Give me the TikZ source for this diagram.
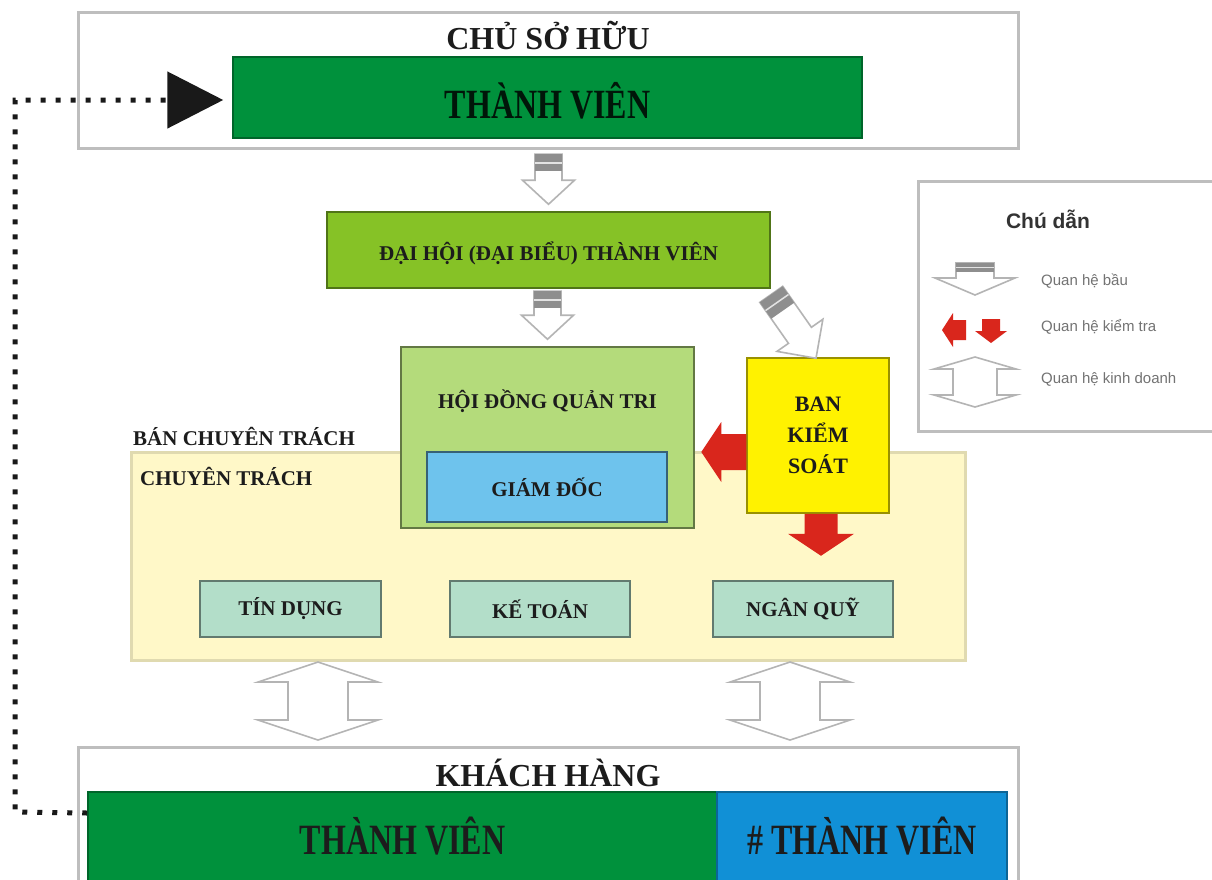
\documentclass[tikz,border=0pt]{standalone}
\usepackage{fontspec}
\setmainfont{Liberation Serif}
\newfontfamily\legfont{Liberation Sans}
\usetikzlibrary{arrows.meta,calc}
\definecolor{greenD}{HTML}{00913C}
\definecolor{daihoiC}{HTML}{86C226}
\definecolor{hdqtC}{HTML}{B4DB7B}
\definecolor{gdC}{HTML}{6EC3ED}
\definecolor{bksC}{HTML}{FFF200}
\definecolor{ctC}{HTML}{FFF8C8}
\definecolor{smallC}{HTML}{B3DEC9}
\definecolor{blueC}{HTML}{1190D6}
\definecolor{redC}{HTML}{D9261C}
\definecolor{outG}{HTML}{BEBEBE}
\definecolor{arrG}{HTML}{B4B4B4}
\definecolor{hatchG}{HTML}{8E8E8E}
\definecolor{txtD}{HTML}{1C1C1C}
\tikzset{
  outerbox/.style={draw=outG, line width=3pt, fill=white, inner sep=0pt},
  colbox/.style={line width=1.5pt, inner sep=0pt, text=txtD},
  bigtxt/.style={font=\bfseries\fontsize{32}{36}\selectfont, text=txtD, inner sep=0pt},
  midtxt/.style={font=\bfseries\fontsize{21}{25}\selectfont, text=txtD, inner sep=0pt},
  legtxt/.style={font=\legfont\fontsize{15}{18}\selectfont, text=black!55, inner sep=0pt, anchor=west},
  dotline/.style={line width=5pt, dash pattern=on 5pt off 10pt, black!90},
  arrline/.style={draw=arrG, line width=1.6pt, fill=white, line join=miter},
  pics/elect/.style n args={5}{code={
    \draw[arrline] (0,0) -- (-#3,-#4) -- (-#2,-#4) -- (-#2,-#1) -- (#2,-#1) -- (#2,-#4) -- (#3,-#4) -- cycle;
    \fill[hatchG] (-#2,-#1) rectangle (#2,{-#1+#5});
    \draw[white!75!hatchG, line width=1.5pt] (-#2,{-#1+#5/2}) -- (#2,{-#1+#5/2});
  }},
  pics/business/.style n args={4}{code={
    \draw[arrline] (0,-#1) -- (#3,{-#1+#4}) -- (#2,{-#1+#4}) -- (#2,{#1-#4}) -- (#3,{#1-#4}) -- (0,#1)
      -- (-#3,{#1-#4}) -- (-#2,{#1-#4}) -- (-#2,{-#1+#4}) -- (-#3,{-#1+#4}) -- cycle;
  }},
  pics/redarrow/.style n args={4}{code={
    \fill[redC] (0,0) -- (-#3,-#4) -- (-#2,-#4) -- (-#2,-#1) -- (#2,-#1) -- (#2,-#4) -- (#3,-#4) -- cycle;
  }}
}
\begin{document}
\begin{tikzpicture}[x=1pt,y=-1pt]
\useasboundingbox (0,0) rectangle (1212,879);
\fill[white] (0,0) rectangle (1212,879);

% top owner box
\node[outerbox, minimum width=940pt, minimum height=136pt] (chu) at (548,80) {};
\node[bigtxt] (chutitle) at (548,36) {CHỦ SỞ HỮU};
\node[colbox, fill=greenD, draw=greenD!70!black, minimum width=629pt, minimum height=81pt] (tv1) at (547.5,97.5) {};
\node[bigtxt, text=black!85!greenD] (tv1t) at (547.5,101) {\scalebox{1}[1.3]{THÀNH VIÊN}};

% dai hoi
\node[colbox, fill=daihoiC, draw=daihoiC!60!black, minimum width=443pt, minimum height=76pt] (daihoi) at (548.5,250) {};
\node[midtxt] (daihoit) at (548.5,253) {ĐẠI HỘI (ĐẠI BIỂU) THÀNH VIÊN};

% chuyen trach area
\node[draw=ctC!70!black!40!ctC, line width=3pt, fill=ctC, minimum width=834pt, minimum height=208pt, inner sep=0pt] (ct) at (548,556) {};
\node[midtxt, anchor=west] (bct) at (133,436) {BÁN CHUYÊN TRÁCH};
\node[midtxt, anchor=west] (ctt) at (140,476) {CHUYÊN TRÁCH};

% HDQT
\node[colbox, fill=hdqtC, draw=hdqtC!55!black, minimum width=293pt, minimum height=181pt] (hdqt) at (547.5,437.5) {};
\node[midtxt] (hdqtt) at (547.5,401) {HỘI ĐỒNG QUẢN TRI};
\node[colbox, fill=gdC, draw=gdC!50!black, minimum width=240pt, minimum height=70pt, midtxt] (gd) at (547,487) {GIÁM ĐỐC};

% Ban kiem soat
\node[colbox, fill=bksC, draw=bksC!60!black, minimum width=142pt, minimum height=155pt, midtxt, align=center,
      font=\bfseries\fontsize{22}{31}\selectfont] (bks) at (818,435.5) {BAN\\KIỂM\\SOÁT};

% small boxes
\node[colbox, fill=smallC, draw=smallC!55!black, minimum width=181pt, minimum height=56pt, midtxt] (tindung) at (290.5,609) {TÍN DỤNG};
\node[colbox, fill=smallC, draw=smallC!55!black, minimum width=180pt, minimum height=56pt, midtxt] (ketoan) at (540,609) {KẾ TOÁN};
\node[colbox, fill=smallC, draw=smallC!55!black, minimum width=180pt, minimum height=56pt, midtxt] (nganquy) at (803,609) {NGÂN QUỸ};

% customers
\node[outerbox, minimum width=940pt, minimum height=160pt] (khach) at (548,827) {};
\node[bigtxt] (khacht) at (548,773) {KHÁCH HÀNG};
\node[colbox, fill=greenD, draw=greenD!70!black, minimum width=629pt, minimum height=90pt] (tv2) at (402.5,837) {};
\node[bigtxt] (tv2t) at (402.5,836) {\scalebox{1}[1.35]{THÀNH VIÊN}};
\node[colbox, fill=blueC, draw=blueC!70!black, minimum width=290pt, minimum height=90pt] (ntv) at (862,837) {};
\node[bigtxt] (ntvt) at (862,836) {\scalebox{1}[1.35]{\# THÀNH VIÊN}};

% legend
\node[outerbox, minimum width=322pt, minimum height=250pt] (legend) at (1079,306) {};
\node[font=\legfont\bfseries\fontsize{21}{24}\selectfont, text=black!80, inner sep=0pt] (legtitle) at (1048,219) {Chú dẫn};
\node[legtxt] (leg1) at (1041,281) {Quan hệ bầu};
\node[legtxt] (leg2) at (1041,327) {Quan hệ kiểm tra};
\node[legtxt] (leg3) at (1041,379) {Quan hệ kinh doanh};

% election arrows
\pic at ([yshift=7pt]daihoi.north) {elect={50}{13.5}{26}{24}{17}};
\pic at ([yshift=7pt]hdqt.north) {elect={48}{13.5}{26}{24}{17}};
\pic[rotate=35] at ([xshift=-2pt,yshift=-1pt]bks.north) {elect={78}{14}{28}{28}{20}};
\pic at (975,295) {elect={32}{19}{40}{17}{9}};

% control arrows
\pic[rotate=-90] at ([xshift=-45pt,yshift=-16.5pt]bks.west) {redarrow={45}{18}{30}{20}};
\pic at ([xshift=3pt,yshift=-42pt]bks.south) {redarrow={42}{16.5}{33}{22}};
\pic[rotate=-90] at (942,330) {redarrow={24}{10}{17}{11}};
\pic at (991,343) {redarrow={24}{9}{16}{12}};

% business arrows
\pic at (318,701) {business={39}{30}{60}{20}};
\pic at (790,701) {business={39}{30}{60}{20}};
\pic at (975,382) {business={25}{22}{41}{12}};

% dotted connector
\coordinate (corner) at (15,812);
\draw[dotline, -{Triangle[length=56pt,width=56pt]}] ([yshift=24pt]tv2.west) -- (corner) |- ([xshift=-9pt,yshift=-2.5pt]tv1.west);
\end{tikzpicture}
\end{document}
